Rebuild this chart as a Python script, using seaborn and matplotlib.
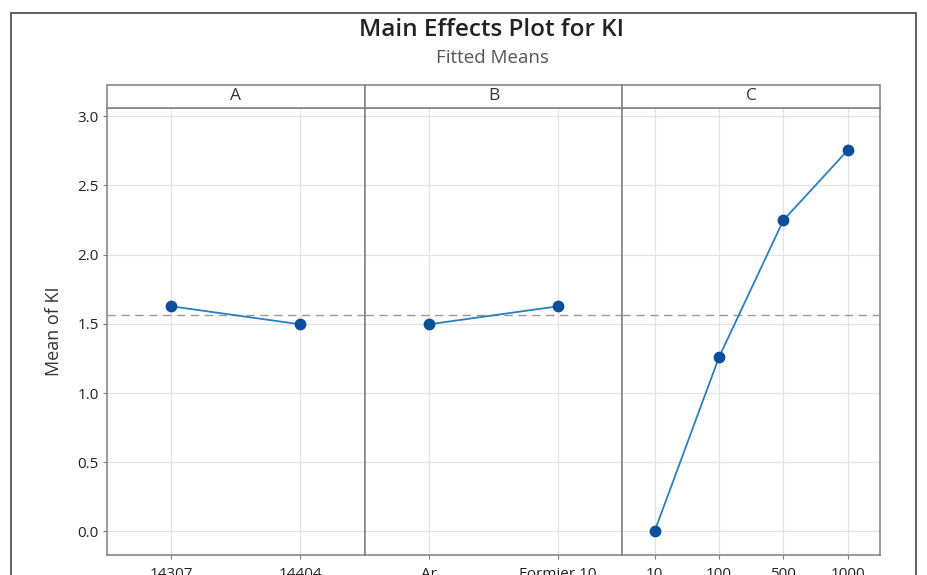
import matplotlib
matplotlib.use("Agg")
import matplotlib.pyplot as plt
from matplotlib.patches import Rectangle
import seaborn as sns
import pandas as pd

# Fitted means for each factor level
factors = ["A", "B", "C"]
levels_a = ["14307", "14404"]
means_a = [1.627, 1.497]
levels_b = ["Ar", "Formier 10"]
means_b = [1.497, 1.627]
levels_c = ["10", "100", "500", "1000"]
means_c = [0.0, 1.258, 2.249, 2.755]
grand_mean = 1.562
y_ticks = [0.0, 0.5, 1.0, 1.5, 2.0, 2.5, 3.0]

panels = [(levels_a, means_a), (levels_b, means_b), (levels_c, means_c)]

sns.set_theme(style="white")
plt.rcParams["font.family"] = ["Open Sans", "DejaVu Sans"]

marker_col = "#0B4F9C"
line_col = "#2A80BE"
grid_col = "#E3E3E3"
spine_col = "#7F7F7F"

W, H = 928, 575
fig = plt.figure(figsize=(W / 100, H / 100), dpi=100)
left, right, top, bottom = 107 / W, 880 / W, (H - 108) / H, (H - 555) / H
pw = (right - left) / 3
axes = []
for i in range(3):
    ax = fig.add_axes([left + i * pw, bottom, pw, top - bottom],
                      sharey=axes[0] if axes else None)
    axes.append(ax)

strip_h = 23 / 447
for i, (ax, name, (lv, mv)) in enumerate(zip(axes, factors, panels)):
    df = pd.DataFrame({"level": lv, "mean": mv})
    sns.pointplot(data=df, x="level", y="mean", order=lv, ax=ax,
                  color=marker_col, markersize=7.5, linewidth=1.3,
                  errorbar=None)
    for ln in ax.lines:
        ln.set_color(line_col)
        ln.set_markerfacecolor(marker_col)
        ln.set_markeredgecolor(marker_col)
        ln.set_zorder(4)
    ax.set_xlim(-0.5, len(lv) - 0.5)
    ax.set_ylim(-0.17, 3.06)
    ax.axhline(grand_mean, color="#9A9A9A", linestyle=(0, (6, 4)),
               linewidth=1.0, zorder=3)
    ax.set_yticks(y_ticks)
    ax.grid(True, color=grid_col, linewidth=0.9, zorder=0)
    ax.set_axisbelow(True)
    ax.set_xlabel("")
    ax.set_ylabel("")
    for sp in ax.spines.values():
        sp.set_color(spine_col)
        sp.set_linewidth(1.1)
    ax.tick_params(axis="x", bottom=True, length=3, width=0.8, color=spine_col,
                   labelsize=11, labelcolor="#222222", pad=6)
    if i == 0:
        ax.tick_params(axis="y", left=True, length=3, width=0.8,
                       color=spine_col, labelsize=11, labelcolor="#222222", pad=3)
        ax.yaxis.set_major_formatter(matplotlib.ticker.FormatStrFormatter("%.1f"))
    else:
        ax.tick_params(axis="y", left=False, labelleft=False)
    ax.add_patch(Rectangle((0, 1), 1, strip_h, transform=ax.transAxes,
                           facecolor="white", edgecolor=spine_col,
                           linewidth=1.1, clip_on=False, zorder=5))
    ax.text(0.5, 1 + strip_h / 2, name, transform=ax.transAxes,
            ha="center", va="center", fontsize=12.5, color="#333333", zorder=6)

axes[0].set_ylabel("Mean of KI", fontsize=13, color="#333333", labelpad=10)

fig.text(492 / W, 1 - 30 / H, "Main Effects Plot for KI", ha="center",
         va="center", fontsize=17.5, fontweight="semibold", color="#222222")
fig.text(492 / W, 1 - 58 / H, "Fitted Means", ha="center", va="center",
         fontsize=13.5, color="#555555")

# Outer frame around the whole chart
fig.add_artist(Rectangle((11 / W, -0.1), (916 - 11) / W, 1.1 - 13 / H,
                         transform=fig.transFigure, fill=False,
                         edgecolor="#555555", linewidth=1.3))

fig.savefig("out.png", dpi=100, facecolor="white")
